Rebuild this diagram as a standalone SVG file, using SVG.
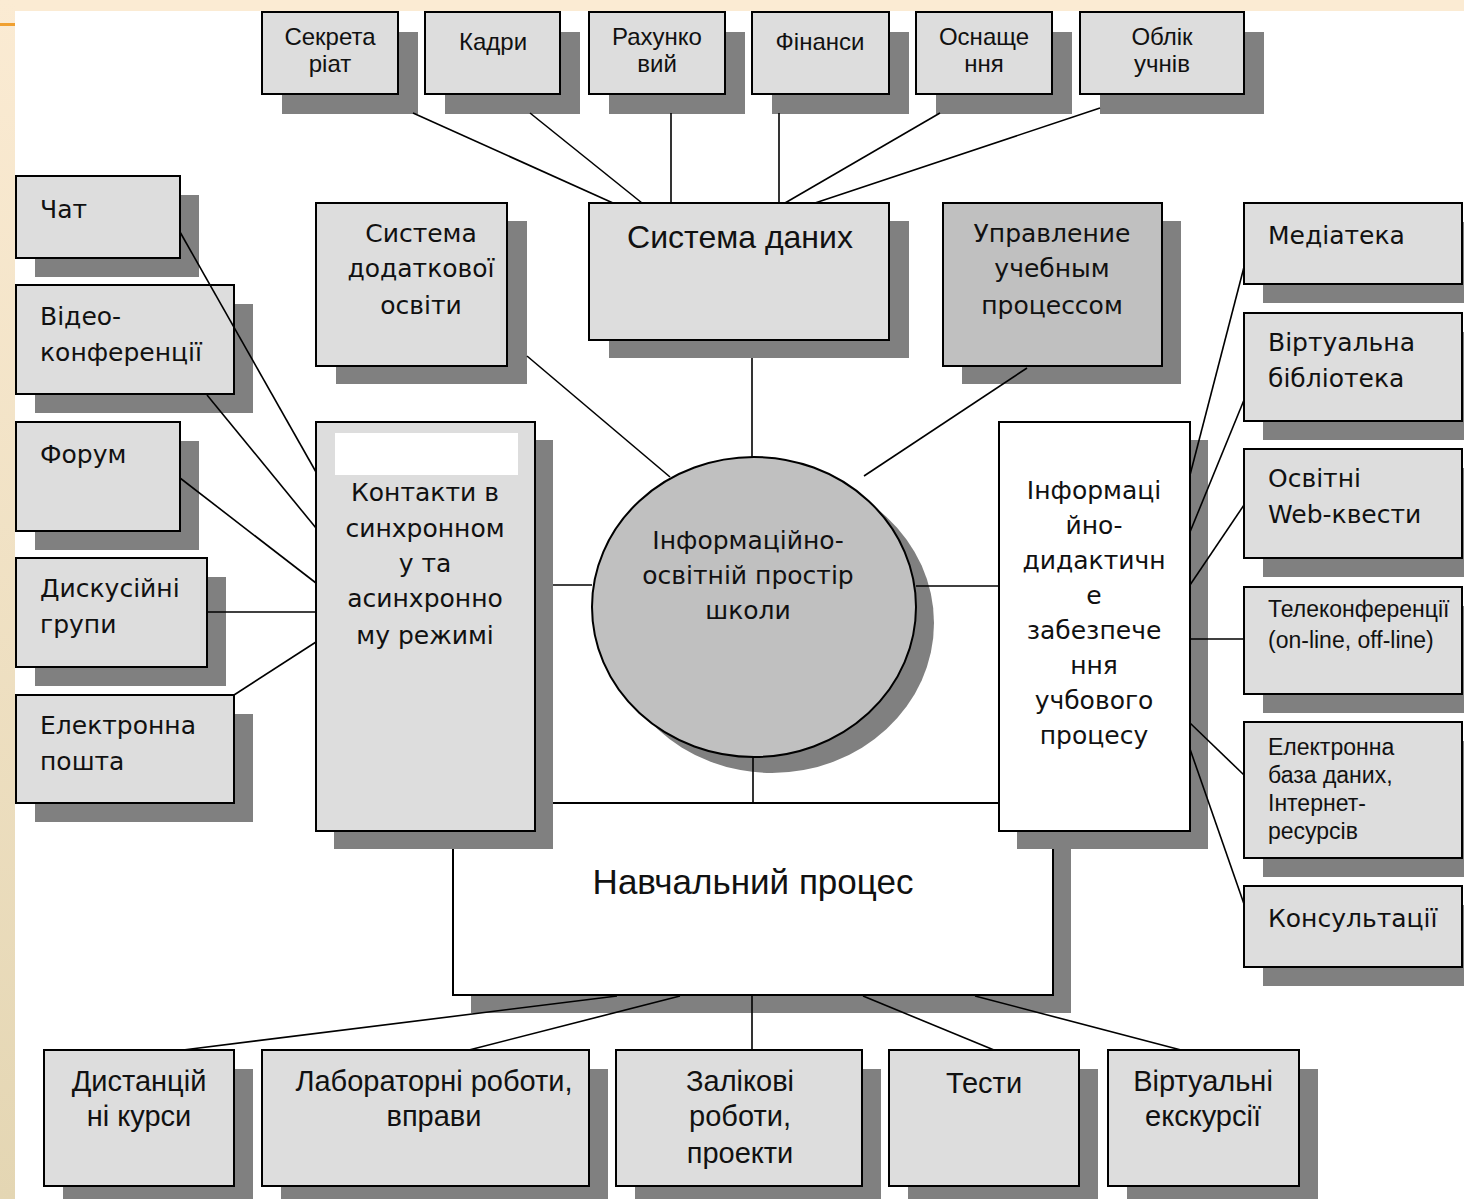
<svg xmlns="http://www.w3.org/2000/svg" width="1464" height="1199" viewBox="0 0 1464 1199">
<defs>
<linearGradient id="lg" x1="0" y1="0" x2="0" y2="1">
<stop offset="0" stop-color="#FBEBD3"/>
<stop offset="1" stop-color="#E4D6B3"/>
</linearGradient>
<style>
.b{fill:#DDDDDD;stroke:#000;stroke-width:2}
.w{fill:#FFFFFF;stroke:#000;stroke-width:2}
.d{fill:#C0C0C0;stroke:#000;stroke-width:2}
.s{fill:#808080}
.a{font-family:"Liberation Sans",Arial,sans-serif;fill:#111}
.v{font-family:"DejaVu Sans",Verdana,sans-serif;font-size:25px;fill:#111}
.c{text-anchor:middle}
.t24{font-size:24px}
.t23{font-size:23px}
.t29{font-size:29px}
#conn line{stroke:#000;stroke-width:1.6}
</style>
</defs>
<rect x="0" y="0" width="1464" height="1199" fill="#FFFFFF"/>
<rect x="0" y="0" width="1464" height="11" fill="#FBEBD3"/>
<rect x="0" y="0" width="15" height="1199" fill="url(#lg)"/>
<rect x="0" y="23" width="15" height="3" fill="#F0A030"/>

<g id="n-sekretariat"><rect class="s" x="282" y="32" width="136" height="82"/><rect class="b" x="262" y="12" width="136" height="82"/>
<text class="a t24 c" x="330" y="45">Секрета</text><text class="a t24 c" x="330" y="72">ріат</text></g>
<g id="n-kadry"><rect class="s" x="445" y="32" width="135" height="82"/><rect class="b" x="425" y="12" width="135" height="82"/>
<text class="a t24 c" x="493" y="50">Кадри</text></g>
<g id="n-rakhunkovyi"><rect class="s" x="609" y="32" width="136" height="82"/><rect class="b" x="589" y="12" width="136" height="82"/>
<text class="a t24 c" x="657" y="45">Рахунко</text><text class="a t24 c" x="657" y="72">вий</text></g>
<g id="n-finansy"><rect class="s" x="772" y="32" width="137" height="82"/><rect class="b" x="752" y="12" width="137" height="82"/>
<text class="a t24 c" x="820" y="50">Фінанси</text></g>
<g id="n-osnashchennia"><rect class="s" x="936" y="32" width="136" height="82"/><rect class="b" x="916" y="12" width="136" height="82"/>
<text class="a t24 c" x="984" y="45">Оснаще</text><text class="a t24 c" x="984" y="72">ння</text></g>
<g id="n-oblik"><rect class="s" x="1100" y="32" width="164" height="82"/><rect class="b" x="1080" y="12" width="164" height="82"/>
<text class="a t24 c" x="1162" y="45">Облік</text><text class="a t24 c" x="1162" y="72">учнів</text></g>

<g id="n-systema-danykh"><rect class="s" x="609" y="221" width="300" height="137"/><rect class="b" x="589" y="203" width="300" height="137"/>
<text class="a c" x="740" y="248" font-size="32">Система даних</text></g>
<g id="n-dodatkova"><rect class="s" x="336" y="221" width="191" height="163"/><rect class="b" x="316" y="203" width="191" height="163"/>
<text class="v c" x="421" y="242">Система</text><text class="v c" x="421" y="277">додаткової</text><text class="v c" x="421" y="314">освіти</text></g>
<g id="n-upravlenie"><rect class="s" x="962" y="221" width="219" height="163"/><rect class="d" x="943" y="203" width="219" height="163"/>
<text class="v c" x="1052" y="242">Управление</text><text class="v c" x="1052" y="277">учебным</text><text class="v c" x="1052" y="314">процессом</text></g>

<g id="n-navchalnyi"><rect class="s" x="471" y="821" width="600" height="192"/><rect class="w" x="453" y="803" width="600" height="192"/>
<text class="a c" x="753" y="894" font-size="35">Навчальний процес</text></g>

<g id="n-prostir"><ellipse class="s" cx="772" cy="623" rx="162" ry="150"/><ellipse cx="754" cy="607" rx="162" ry="150" fill="#C0C0C0" stroke="#000" stroke-width="2"/>
<text class="v c" x="748" y="549" font-size="23">Інформаційно-</text><text class="v c" x="748" y="584" font-size="23">освітній простір</text><text class="v c" x="748" y="619" font-size="23">школи</text></g>

<g id="n-kontakty"><rect class="s" x="334" y="440" width="219" height="409"/><rect class="b" x="316" y="422" width="219" height="409"/>
<rect x="335" y="433" width="183" height="42" fill="#FFFFFF"/>
<text class="v c" x="425" y="501">Контакти в</text><text class="v c" x="425" y="537">синхронном</text><text class="v c" x="425" y="572">у та</text><text class="v c" x="425" y="607">асинхронно</text><text class="v c" x="425" y="644">му режимі</text></g>

<g id="n-informatsiino"><rect class="s" x="1017" y="440" width="191" height="409"/><rect class="w" x="999" y="422" width="191" height="409"/>
<text class="v c" x="1094" y="499">Інформаці</text><text class="v c" x="1094" y="534">йно-</text><text class="v c" x="1094" y="569">дидактичн</text><text class="v c" x="1094" y="604">е</text><text class="v c" x="1094" y="639">забезпече</text><text class="v c" x="1094" y="674">ння</text><text class="v c" x="1094" y="709">учбового</text><text class="v c" x="1094" y="744">процесу</text></g>

<g id="n-chat"><rect class="s" x="35" y="195" width="164" height="82"/><rect class="b" x="16" y="176" width="164" height="82"/>
<text class="v" x="40" y="218">Чат</text></g>
<g id="n-video"><rect class="s" x="35" y="304" width="218" height="109"/><rect class="b" x="16" y="285" width="218" height="109"/>
<text class="v" x="40" y="325">Відео-</text><text class="v" x="40" y="361">конференції</text></g>
<g id="n-forum"><rect class="s" x="35" y="441" width="164" height="109"/><rect class="b" x="16" y="422" width="164" height="109"/>
<text class="v" x="40" y="463">Форум</text></g>
<g id="n-dyskusiini"><rect class="s" x="35" y="577" width="191" height="109"/><rect class="b" x="16" y="558" width="191" height="109"/>
<text class="v" x="40" y="597">Дискусійні</text><text class="v" x="40" y="633">групи</text></g>
<g id="n-email"><rect class="s" x="35" y="714" width="218" height="108"/><rect class="b" x="16" y="695" width="218" height="108"/>
<text class="v" x="40" y="734">Електронна</text><text class="v" x="40" y="770">пошта</text></g>

<g id="n-mediateka"><rect class="s" x="1263" y="222" width="218" height="81"/><rect class="b" x="1244" y="203" width="218" height="81"/>
<text class="v" x="1268" y="244">Медіатека</text></g>
<g id="n-biblioteka"><rect class="s" x="1263" y="332" width="218" height="108"/><rect class="b" x="1244" y="313" width="218" height="108"/>
<text class="v" x="1268" y="351">Віртуальна</text><text class="v" x="1268" y="387">бібліотека</text></g>
<g id="n-kvesty"><rect class="s" x="1263" y="468" width="218" height="109"/><rect class="b" x="1244" y="449" width="218" height="109"/>
<text class="v" x="1268" y="487">Освітні</text><text class="v" x="1268" y="523">Web-квести</text></g>
<g id="n-telekonf"><rect class="s" x="1263" y="606" width="218" height="107"/><rect class="b" x="1244" y="587" width="218" height="107"/>
<text class="a t23" x="1268" y="617">Телеконференції</text><text class="a t23" x="1268" y="648">(on-line, off-line)</text></g>
<g id="n-baza"><rect class="s" x="1263" y="741" width="218" height="136"/><rect class="b" x="1244" y="722" width="218" height="136"/>
<text class="a t23" x="1268" y="755">Електронна</text><text class="a t23" x="1268" y="783">база даних,</text><text class="a t23" x="1268" y="811">Інтернет-</text><text class="a t23" x="1268" y="839">ресурсів</text></g>
<g id="n-konsultatsii"><rect class="s" x="1263" y="905" width="218" height="81"/><rect class="b" x="1244" y="886" width="218" height="81"/>
<text class="v" x="1268" y="927">Консультації</text></g>

<g id="n-dystantsiini"><rect class="s" x="63" y="1069" width="190" height="136"/><rect class="b" x="44" y="1050" width="190" height="136"/>
<text class="a t29 c" x="139" y="1091">Дистанцій</text><text class="a t29 c" x="139" y="1126">ні курси</text></g>
<g id="n-laboratorni"><rect class="s" x="281" y="1069" width="327" height="136"/><rect class="b" x="262" y="1050" width="327" height="136"/>
<text class="a t29 c" x="434" y="1091">Лабораторні роботи,</text><text class="a t29 c" x="434" y="1126">вправи</text></g>
<g id="n-zalikovi"><rect class="s" x="635" y="1069" width="246" height="136"/><rect class="b" x="616" y="1050" width="246" height="136"/>
<text class="a t29 c" x="740" y="1091">Залікові</text><text class="a t29 c" x="740" y="1126">роботи,</text><text class="a t29 c" x="740" y="1163">проекти</text></g>
<g id="n-testy"><rect class="s" x="908" y="1069" width="190" height="136"/><rect class="b" x="889" y="1050" width="190" height="136"/>
<text class="a t29 c" x="984" y="1093">Тести</text></g>
<g id="n-ekskursii"><rect class="s" x="1127" y="1069" width="191" height="136"/><rect class="b" x="1108" y="1050" width="191" height="136"/>
<text class="a t29 c" x="1203" y="1091">Віртуальні</text><text class="a t29 c" x="1203" y="1126">екскурсії</text></g>

<g id="conn">
<line x1="413" y1="113" x2="613" y2="203"/>
<line x1="530" y1="113" x2="642" y2="203"/>
<line x1="671" y1="113" x2="671" y2="203"/>
<line x1="779" y1="113" x2="779" y2="203"/>
<line x1="940" y1="113" x2="785" y2="203"/>
<line x1="1100" y1="108" x2="815" y2="203"/>
<line x1="752" y1="358" x2="752" y2="457"/>
<line x1="527" y1="356" x2="670" y2="477"/>
<line x1="1027" y1="368" x2="864" y2="476"/>
<line x1="553" y1="585" x2="592" y2="585"/>
<line x1="916" y1="586" x2="999" y2="586"/>
<line x1="753" y1="757" x2="753" y2="803"/>
<line x1="180" y1="232" x2="316" y2="472"/>
<line x1="207" y1="395" x2="316" y2="528"/>
<line x1="180" y1="478" x2="316" y2="583"/>
<line x1="207" y1="612" x2="316" y2="612"/>
<line x1="234" y1="695" x2="316" y2="642"/>
<line x1="1190" y1="475" x2="1244" y2="267"/>
<line x1="1190" y1="532" x2="1244" y2="400"/>
<line x1="1190" y1="585" x2="1244" y2="505"/>
<line x1="1190" y1="639" x2="1244" y2="639"/>
<line x1="1190" y1="723" x2="1244" y2="775"/>
<line x1="1190" y1="749" x2="1244" y2="904"/>
<line x1="617" y1="996" x2="183" y2="1050"/>
<line x1="680" y1="996" x2="469" y2="1050"/>
<line x1="752" y1="995" x2="752" y2="1050"/>
<line x1="863" y1="996" x2="994" y2="1050"/>
<line x1="975" y1="996" x2="1181" y2="1050"/>
</g>
</svg>
